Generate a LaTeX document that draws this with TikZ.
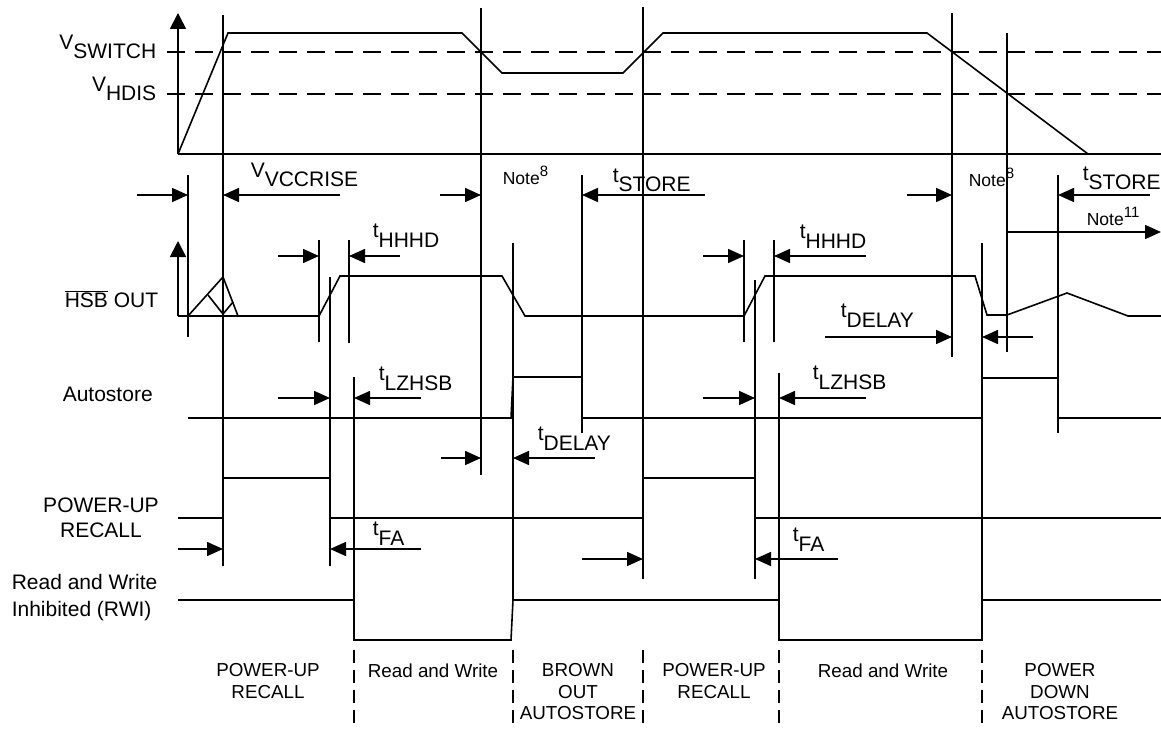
\documentclass[tikz,border=0pt]{standalone}
\usepackage{fontspec}
\setmainfont{Liberation Sans}
\usetikzlibrary{arrows.meta}
\newcommand{\sublab}[2]{\raisebox{9.5bp}{#1}#2}
\newcommand{\notelab}[1]{Note\raisebox{8bp}{\fontsize{15bp}{15bp}\selectfont #1}}
\begin{document}
\begin{tikzpicture}[x=1bp,y=-1bp,line width=1.6bp,
  lbl/.style={inner sep=0pt,font=\fontsize{21bp}{25bp}\selectfont},
  note/.style={inner sep=0pt,font=\fontsize{17.5bp}{20bp}\selectfont},
  phase/.style={inner sep=0pt,align=center,font=\fontsize{18.8bp}{21.5bp}\selectfont},
  dim/.style={-{Triangle[length=16bp,width=14bp]}},
  axis/.style={-{Triangle[length=16bp,width=16bp]}},
  level/.style={dash pattern=on 18bp off 10bp},
  sep/.style={dash pattern=on 13bp off 7bp}]
\useasboundingbox (0,0) rectangle (1161,730);
\draw[axis] (178,154) -- (178,13);
\draw (178,154) -- (1161,154);
\draw[level] (167,52) -- (1161,52);
\draw[level] (167,94) -- (1161,94);
\draw (178,154) -- (228,33) -- (462,33) -- (502,73) -- (623,73) -- (663,33) -- (927,33) -- (1088,154);
\node[lbl, anchor=base east] (vsw) at (157,59) {\sublab{V}{SWITCH}};
\node[lbl, anchor=base east] (vhd) at (157,101) {\sublab{V}{HDIS}};
\draw (223,15) -- (223,566) (188,175) -- (188,337) (319,240) -- (319,342)
  (330,277) -- (330,566) (349,240) -- (349,343) (354,377) -- (354,600)
  (481,8) -- (481,475) (513,243) -- (513,600) (582,175) -- (582,433)
  (643,7) -- (643,579) (744,240) -- (744,342) (755,280) -- (755,579)
  (774,240) -- (774,342) (779,373) -- (779,600) (952,13) -- (952,357)
  (982,243) -- (982,600) (1007,33) -- (1007,352) (1058,175) -- (1058,433);
\draw[dim] (137,195) -- (188,195);
\draw[dim] (340,195) -- (223,195);
\node[lbl, anchor=base west] (vrise) at (250,187) {\sublab{V}{VCCRISE}};
\draw[dim] (440,195) -- (481,195);
\draw[dim] (705,195) -- (582,195);
\node[note, anchor=base west] (n8a) at (502,185) {\notelab{8}};
\node[lbl, anchor=base west] (st1) at (612,192) {\sublab{t}{STORE}};
\draw[dim] (907,195) -- (952,195);
\draw[dim] (1150,195) -- (1058,195);
\node[note, anchor=base west] (n8b) at (968,187) {\notelab{8}};
\node[lbl, anchor=base west] (st2) at (1082,190) {\sublab{t}{STORE}};
\draw[dim] (1007,232) -- (1161,232);
\node[note, anchor=base west] (n11) at (1086,226) {\notelab{11}};
\draw[axis] (178,316) -- (178,241);
\node[lbl, anchor=base west] (hsb) at (64,307) {$\overline{\mbox{HSB}}$ OUT};
\draw (178,316) -- (319,316) -- (340,276) -- (502,276) -- (525,316) -- (744,316) -- (765,276) -- (975,276) -- (987,315) -- (1007,315) -- (1067,293) -- (1128,316) -- (1161,316);
\draw (188,316) -- (223,277) -- (238,316);
\draw (208,295) -- (223,314) -- (233,302);
\draw[dim] (278,256) -- (319,256);
\draw[dim] (400,256) -- (349,256);
\node[lbl, anchor=base west] (hhhd1) at (372,247) {\sublab{t}{HHHD}};
\draw[dim] (703,256) -- (744,256);
\draw[dim] (866,256) -- (774,256);
\node[lbl, anchor=base west] (hhhd2) at (799,248) {\sublab{t}{HHHD}};
\draw[dim] (825,337) -- (952,337);
\draw[dim] (1033,337) -- (982,337);
\node[lbl, anchor=base west] (dl2) at (840,327) {\sublab{t}{DELAY}};
\node[lbl, anchor=base west] (auto) at (62,401) {Autostore};
\draw (188,418) -- (511,418) -- (513,377) -- (582,377) -- (582,418) -- (982,418) -- (982,378) -- (1058,378) -- (1058,418) -- (1161,418);
\draw[dim] (278,398) -- (330,398);
\draw[dim] (421,398) -- (354,398);
\node[lbl, anchor=base west] (lz1) at (378,390) {\sublab{t}{LZHSB}};
\draw[dim] (703,398) -- (755,398);
\draw[dim] (866,398) -- (779,398);
\node[lbl, anchor=base west] (lz2) at (812,389) {\sublab{t}{LZHSB}};
\draw[dim] (441,458) -- (481,458);
\draw[dim] (595,458) -- (513,458);
\node[lbl, anchor=base west] (dl1) at (537,450) {\sublab{t}{DELAY}};
\node[lbl, align=center, anchor=north] (pur) at (101,497) {POWER-UP\\RECALL};
\draw (178,518) -- (223,518) -- (223,478) -- (330,478) -- (330,518) -- (643,518) -- (643,478) -- (755,478) -- (755,518) -- (1161,518);
\draw[dim] (178,549) -- (223,549);
\draw[dim] (421,549) -- (330,549);
\node[lbl, anchor=base west] (fa1) at (372,545) {\sublab{t}{FA}};
\draw[dim] (582,559) -- (643,559);
\draw[dim] (838,559) -- (755,559);
\node[lbl, anchor=base west] (fa2) at (792,551) {\sublab{t}{FA}};
\node[lbl, align=left, anchor=north west, font=\fontsize{21bp}{27bp}\selectfont] (rwi) at (11,573) {Read and Write\\Inhibited (RWI)};
\draw (178,600) -- (354,600) -- (354,640) -- (511,640) -- (513,600) -- (779,600) -- (779,640) -- (982,640) -- (982,600) -- (1161,600);
\draw[sep] (354,650) -- (354,730) (513,650) -- (513,730) (643,650) -- (643,730) (779,650) -- (779,730) (982,650) -- (982,730);
\node[phase, anchor=north] (ph1) at (268,663) {POWER-UP\\RECALL};
\node[phase, anchor=north] (ph2) at (433,663) {Read and Write};
\node[phase, anchor=north] (ph3) at (578,663) {BROWN\\OUT\\AUTOSTORE};
\node[phase, anchor=north] (ph4) at (714,663) {POWER-UP\\RECALL};
\node[phase, anchor=north] (ph5) at (883,663) {Read and Write};
\node[phase, anchor=north] (ph6) at (1060,663) {POWER\\DOWN\\AUTOSTORE};
\end{tikzpicture}
\end{document}
